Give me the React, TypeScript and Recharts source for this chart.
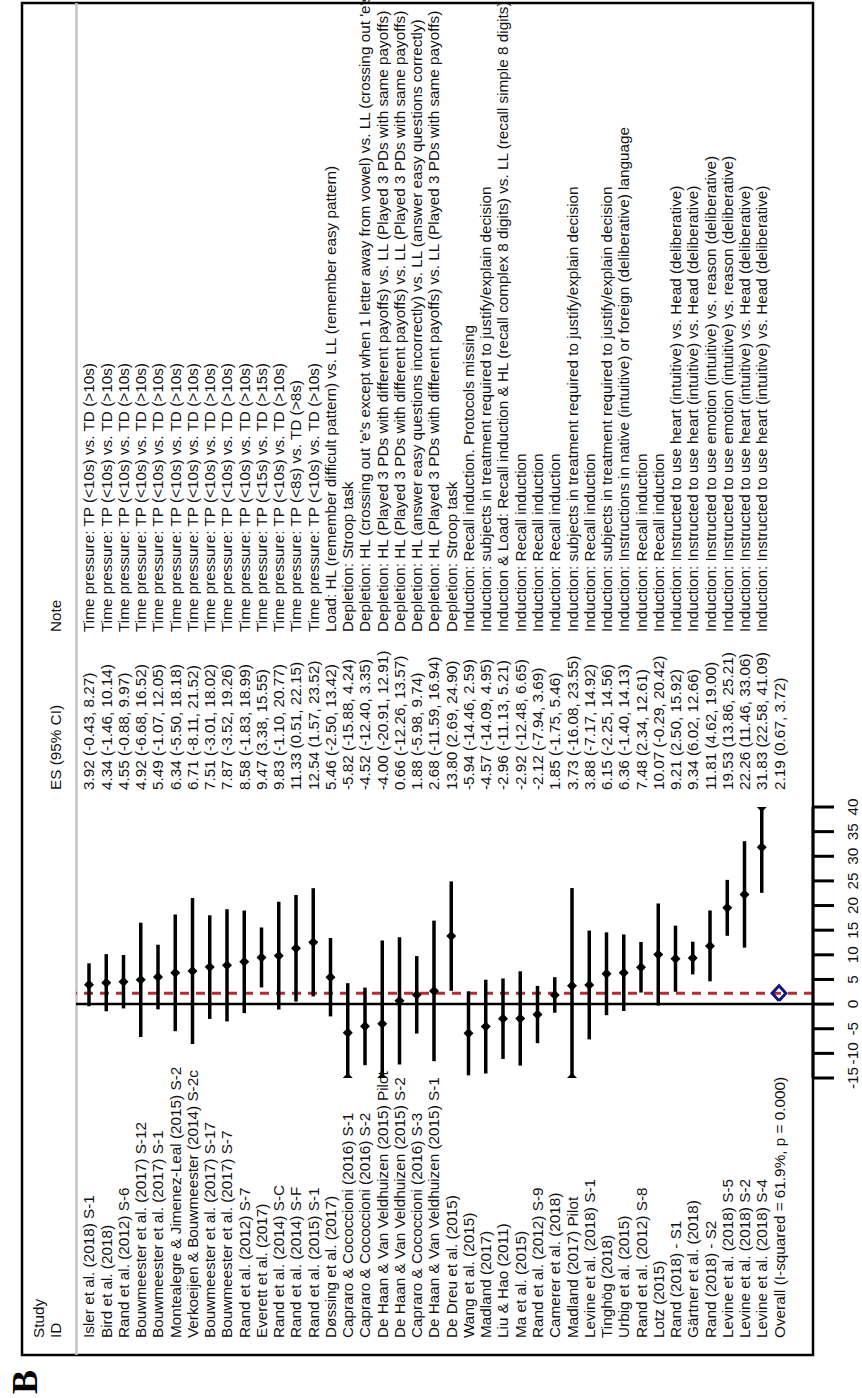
import { ScatterChart, Scatter, XAxis, YAxis, ErrorBar, ReferenceLine } from "recharts";

// study rows, top to bottom
const studies = [
  "Isler et al. (2018) S-1",
  "Bird et al. (2018)",
  "Rand et al. (2012) S-6",
  "Bouwmeester et al. (2017) S-12",
  "Bouwmeester et al. (2017) S-1",
  "Montealegre & Jimenez-Leal (2015) S-2",
  "Verkoeijen & Bouwmeester (2014) S-2c",
  "Bouwmeester et al. (2017) S-17",
  "Bouwmeester et al. (2017) S-7",
  "Rand et al. (2012) S-7",
  "Everett et al. (2017)",
  "Rand et al. (2014) S-C",
  "Rand et al. (2014) S-F",
  "Rand et al. (2015) S-1",
  "Døssing et al. (2017)",
  "Capraro & Cococcioni (2016) S-1",
  "Capraro & Cococcioni (2016) S-2",
  "De Haan & Van Veldhuizen (2015) Pilot",
  "De Haan & Van Veldhuizen (2015) S-2",
  "Capraro & Cococcioni (2016) S-3",
  "De Haan & Van Veldhuizen (2015) S-1",
  "De Dreu et al. (2015)",
  "Wang et al. (2015)",
  "Madland (2017)",
  "Liu & Hao (2011)",
  "Ma et al. (2015)",
  "Rand et al. (2012) S-9",
  "Camerer et al. (2018)",
  "Madland (2017) Pilot",
  "Levine et al. (2018) S-1",
  "Tinghög (2018)",
  "Urbig et al. (2015)",
  "Rand et al. (2012) S-8",
  "Lotz (2015)",
  "Rand (2018) - S1",
  "Gärtner et al. (2018)",
  "Rand (2018) - S2",
  "Levine et al. (2018) S-5",
  "Levine et al. (2018) S-2",
  "Levine et al. (2018) S-4",
];

const es = [
  3.92, 4.34, 4.55, 4.92, 5.49, 6.34, 6.71, 7.51, 7.87, 8.58, 9.47, 9.83, 11.33, 12.54, 5.46,
  -5.82, -4.52, -4.0, 0.66, 1.88, 2.68, 13.8, -5.94, -4.57, -2.96, -2.92, -2.12, 1.85, 3.73,
  3.88, 6.15, 6.36, 7.48, 10.07, 9.21, 9.34, 11.81, 19.53, 22.26, 31.83,
];

const lower = [
  -0.43, -1.46, -0.88, -6.68, -1.07, -5.5, -8.11, -3.01, -3.52, -1.83, 3.38, -1.1, 0.51, 1.57,
  -2.5, -15.88, -12.4, -20.91, -12.26, -5.98, -11.59, 2.69, -14.46, -14.09, -11.13, -12.48,
  -7.94, -1.75, -16.08, -7.17, -2.25, -1.4, 2.34, -0.29, 2.5, 6.02, 4.62, 13.86, 11.46, 22.58,
];

const upper = [
  8.27, 10.14, 9.97, 16.52, 12.05, 18.18, 21.52, 18.02, 19.26, 18.99, 15.55, 20.77, 22.15,
  23.52, 13.42, 4.24, 3.35, 12.91, 13.57, 9.74, 16.94, 24.9, 2.59, 4.95, 5.21, 6.65, 3.69,
  5.46, 23.55, 14.92, 14.56, 14.13, 12.61, 20.42, 15.92, 12.66, 19.0, 25.21, 33.06, 41.09,
];

const TP10 = "Time pressure: TP (<10s) vs. TD (>10s)";
const PD3 = "Depletion: HL (Played 3 PDs with different payoffs) vs. LL (Played 3 PDs with same payoffs)";
const JUSTIFY = "Induction: subjects in treatment required to justify/explain decision";
const RECALL = "Induction: Recall induction";
const HEART = "Induction: Instructed to use heart (intuitive) vs. Head (deliberative)";
const EMOTION = "Induction: Instructed to use emotion (intuitive) vs. reason (deliberative)";

const notes = [
  TP10, TP10, TP10, TP10, TP10, TP10, TP10, TP10, TP10, TP10,
  "Time pressure: TP (<15s) vs. TD (>15s)",
  TP10,
  "Time pressure: TP (<8s) vs. TD (>8s)",
  TP10,
  "Load: HL (remember difficult pattern) vs. LL (remember easy pattern)",
  "Depletion: Stroop task",
  "Depletion: HL (crossing out 'e's except when 1 letter away from vowel) vs. LL (crossing out 'e's)",
  PD3,
  PD3,
  "Depletion: HL (answer easy questions incorrectly) vs. LL (answer easy questions correctly)",
  PD3,
  "Depletion: Stroop task",
  "Induction: Recall induction. Protocols missing",
  JUSTIFY,
  "Induction & Load: Recall induction & HL (recall complex 8 digits) vs. LL (recall simple 8 digits)",
  RECALL, RECALL, RECALL,
  JUSTIFY,
  RECALL,
  JUSTIFY,
  "Induction: Instructions in native (intuitive) or foreign (deliberative) language",
  RECALL, RECALL,
  HEART, HEART,
  EMOTION, EMOTION,
  HEART, HEART,
];

const overallLabel = "Overall (I-squared = 61.9%, p = 0.000)";
const overallEs = 2.19;
const overallLower = 0.67;
const overallUpper = 3.72;

const esTicks = [-15, -10, -5, 0, 5, 10, 15, 20, 25, 30, 35, 40];
const AXIS_MIN = -15;
const AXIS_MAX = 40;

// chart is drawn landscape, then turned a quarter to the left
const W = 1398;
const H = 862;
const FONT = "'Liberation Sans', Arial, sans-serif";
const FS = 15.3;
const COL_STUDY = 60;
const COL_ES = 608;
const COL_NOTE = 766;

const rows = studies.map((name, i) => {
  const lo = Math.max(lower[i], AXIS_MIN);
  const hi = Math.min(upper[i], AXIS_MAX);
  return { x: es[i], y: i + 1, err: [es[i] - lo, hi - es[i]] };
});

const clipped = studies.flatMap((_, i) => {
  const out: { x: number; y: number }[] = [];
  if (lower[i] < AXIS_MIN) out.push({ x: AXIS_MIN, y: i + 1 });
  if (upper[i] > AXIS_MAX) out.push({ x: AXIS_MAX, y: i + 1 });
  return out;
});

const overallRow = studies.length + 1;
const diamond = [
  { x: overallLower, y: overallRow },
  { x: overallEs, y: overallRow - 0.4 },
  { x: overallUpper, y: overallRow },
  { x: overallEs, y: overallRow + 0.4 },
  { x: overallLower, y: overallRow },
];

const rowTicks = Array.from({ length: overallRow }, (_, i) => i + 1);

const fmt = (a: number, b: number, c: number) =>
  `${a.toFixed(2)} (${b.toFixed(2)}, ${c.toFixed(2)})`;

const Diamond = (props: any) => {
  const { cx, cy } = props;
  const r = 5;
  return (
    <polygon
      points={`${cx - r},${cy} ${cx},${cy - r} ${cx + r},${cy} ${cx},${cy + r}`}
      fill="#000"
    />
  );
};

const RowTick = (props: any) => {
  const { y, payload } = props;
  const i = payload.value - 1;
  const isOverall = i === studies.length;
  const name = isOverall ? overallLabel : studies[i];
  const ci = isOverall
    ? fmt(overallEs, overallLower, overallUpper)
    : fmt(es[i], lower[i], upper[i]);
  const txt = { fontFamily: FONT, fontSize: FS, fill: "#111" };
  return (
    <g>
      <text x={COL_STUDY} y={y} dy={5.5} {...txt}>
        {name}
      </text>
      <text x={COL_ES} y={y} dy={5.5} {...txt}>
        {ci}
      </text>
      {!isOverall && (
        <text x={COL_NOTE} y={y} dy={5.5} {...txt}>
          {notes[i]}
        </text>
      )}
    </g>
  );
};

const EsTick = (props: any) => (
  <text
    x={props.x}
    y={props.y}
    dy={22}
    textAnchor="middle"
    fontFamily={FONT}
    fontSize={FS}
    fill="#111"
  >
    {props.payload.value}
  </text>
);

export default function App() {
  const head = { fontFamily: FONT, fontSize: FS, fill: "#111" };
  return (
    <div
      style={{
        position: "absolute",
        left: 0,
        top: 0,
        width: H,
        height: W,
        overflow: "hidden",
        background: "#fff",
      }}
    >
      <div
        style={{
          position: "absolute",
          left: 0,
          top: 0,
          width: W,
          height: H,
          transformOrigin: "0 0",
          transform: `translateY(${W}px) rotate(-90deg)`,
        }}
      >
        <svg width={W} height={H} style={{ position: "absolute", left: 0, top: 0 }}>
          <rect x={43} y={22} width={1395 - 43} height={813 - 22} fill="none" stroke="#000" strokeWidth={2.5} />
          <line x1={43} x2={1395} y1={76.5} y2={76.5} stroke="#c4c4c4" strokeWidth={2.5} />
          <text x={4} y={37} fontFamily="'Liberation Serif', 'Times New Roman', serif" fontWeight="bold" fontSize={36} fill="#000">
            B
          </text>
          <text x={COL_STUDY} y={44} {...head}>Study</text>
          <text x={COL_STUDY} y={61} {...head}>ID</text>
          <text x={COL_ES} y={61} {...head}>ES (95% CI)</text>
          <text x={COL_NOTE} y={61} {...head}>Note</text>
        </svg>
        <div style={{ position: "absolute", left: 0, top: 0 }}>
          <ScatterChart
            width={W}
            height={H}
            margin={{ top: 76, right: W - 591, bottom: 0, left: 260 }}
          >
            <XAxis
              type="number"
              dataKey="x"
              domain={[AXIS_MIN, AXIS_MAX]}
              ticks={esTicks}
              interval={0}
              allowDataOverflow
              height={49}
              tickSize={21}
              stroke="#000"
              strokeWidth={3}
              tick={<EsTick />}
            />
            <YAxis
              type="number"
              dataKey="y"
              reversed
              domain={[0.2464, 42.971]}
              allowDataOverflow
              ticks={rowTicks}
              interval={0}
              width={60}
              axisLine={false}
              tickLine={false}
              tick={<RowTick />}
            />
            <ReferenceLine x={overallEs} stroke="#a3343c" strokeWidth={3} strokeDasharray="9 7" />
            <ReferenceLine x={0} stroke="#000" strokeWidth={2.5} />
            <Scatter data={rows} shape={<Diamond />} isAnimationActive={false}>
              <ErrorBar
                dataKey="err"
                direction="x"
                width={0}
                stroke="#000"
                strokeWidth={3.5}
                isAnimationActive={false}
              />
            </Scatter>
            <Scatter data={clipped} shape={<Diamond />} isAnimationActive={false} />
            <Scatter
              data={diamond}
              shape={() => <g />}
              line={{ stroke: "#14177a", strokeWidth: 3, strokeLinejoin: "miter" }}
              isAnimationActive={false}
            />
          </ScatterChart>
        </div>
      </div>
    </div>
  );
}
